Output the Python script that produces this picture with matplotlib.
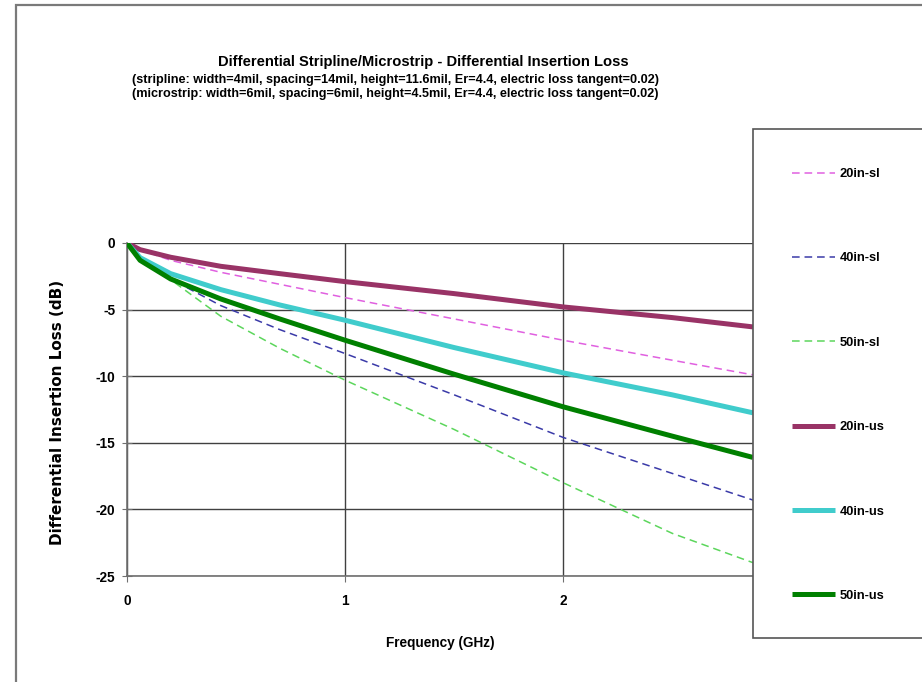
import matplotlib
matplotlib.use('Agg')
import matplotlib.pyplot as plt
from matplotlib.patches import Rectangle

plt.rcParams['axes.unicode_minus'] = False

# ---------------- data ----------------
freq = [0, 0.06, 0.2, 0.43, 0.7, 1.0, 1.5, 2.0, 2.5, 2.87]
sl_20 = [0, -0.5, -1.3, -2.2, -3.1, -4.1, -5.7, -7.3, -8.8, -9.9]
sl_40 = [0, -1.0, -2.7, -4.7, -6.5, -8.3, -11.4, -14.6, -17.3, -19.3]
sl_50 = [0, -1.05, -2.75, -5.5, -7.9, -10.3, -14.0, -18.0, -21.8, -24.0]
us_20 = [0, -0.5, -1.07, -1.75, -2.3, -2.9, -3.8, -4.8, -5.6, -6.3]
us_40 = [0, -1.1, -2.3, -3.5, -4.65, -5.8, -7.85, -9.75, -11.4, -12.75]
us_50 = [0, -1.3, -2.7, -4.2, -5.7, -7.3, -9.85, -12.3, -14.5, -16.1]
labels = ['20in-sl', '40in-sl', '50in-sl', '20in-us', '40in-us', '50in-us']
x_ticks = [0, 1, 2]
y_ticks = [0, -5, -10, -15, -20, -25]

title = 'Differential Stripline/Microstrip - Differential Insertion Loss'
sub1 = '(stripline: width=4mil, spacing=14mil, height=11.6mil, Er=4.4, electric loss tangent=0.02)'
sub2 = '(microstrip: width=6mil, spacing=6mil, height=4.5mil, Er=4.4, electric loss tangent=0.02)'

FONT = ['Liberation Sans', 'DejaVu Sans']
W, H = 922, 682

fig = plt.figure(figsize=(W / 100, H / 100), dpi=100)
fig.patch.set_facecolor('white')

def fx(px):
    return px / W

def fy(py):
    return 1 - py / H

ax = fig.add_axes([fx(127), fy(576), fx(753) - fx(127), fy(243) - fy(576)])

series = [sl_20, sl_40, sl_50, us_20, us_40, us_50]
colors = ['#E060E0', '#3A3AA8', '#5CD65C', '#993366', '#40CCCC', '#008000']
widths = [1.1, 1.1, 1.1, 3.6, 3.6, 3.6]
styles = ['--', '--', '--', '-', '-', '-']
lines = []
for s, c, w, ls, lab in zip(series, colors, widths, styles, labels):
    ln, = ax.plot(freq, s, color=c, lw=w, ls=ls, label=lab, zorder=3,
                  solid_capstyle='butt', solid_joinstyle='round')
    if ls == '--':
        ln.set_dashes((5, 3.2))
    lines.append(ln)

ax.set_xlim(0, 2.87)
ax.set_ylim(-25, 0)
ax.set_xticks(x_ticks)
ax.set_yticks(y_ticks)
ax.grid(True, color='#404040', lw=1.0, zorder=1)
for sp in ['top', 'right']:
    ax.spines[sp].set_visible(False)
for sp in ['left', 'bottom']:
    ax.spines[sp].set_color('#707070')
    ax.spines[sp].set_linewidth(1.2)
ax.tick_params(axis='y', direction='inout', length=7, color='#707070', pad=5)
ax.tick_params(axis='x', direction='out', length=4, color='#707070', pad=9)
for lab in ax.get_xticklabels() + ax.get_yticklabels():
    lab.set_fontfamily(FONT)
    lab.set_fontweight('bold')
    lab.set_fontsize(9.8)

ax.set_xlabel('Frequency (GHz)', family=FONT, weight='bold', fontsize=9.8, labelpad=20)
fig.text(fx(57), fy(412), 'Differential Insertion Loss (dB)', rotation=90,
         ha='center', va='center', family=['DejaVu Sans'],
         weight='bold', fontsize=11)

fig.text(fx(423), fy(62), title, ha='center', va='center', family=FONT,
         weight='bold', fontsize=10.6)
fig.text(fx(395), fy(80), sub1, ha='center', va='center', family=FONT,
         weight='bold', fontsize=9.1)
fig.text(fx(395), fy(94), sub2, ha='center', va='center', family=FONT,
         weight='bold', fontsize=9.1)

# outer chart border (cropped on the right and bottom)
fig.add_artist(Rectangle((fx(15.5), -0.05), 1.2, fy(5) + 0.05, transform=fig.transFigure,
                         fill=False, edgecolor='#7a7a7a', lw=1.6, clip_on=False))
# legend frame
fig.add_artist(Rectangle((fx(753), fy(638)), 0.5, fy(129) - fy(638), transform=fig.transFigure,
                         facecolor='white', edgecolor='#555555', lw=1.2, clip_on=False, zorder=4))

leg = fig.legend(handles=lines, labels=labels, loc='upper left',
                 bbox_to_anchor=(fx(792), fy(168)), frameon=False,
                 prop={'family': FONT, 'weight': 'bold', 'size': 9.3},
                 handlelength=3.35, handletextpad=0.35, labelspacing=5.6,
                 borderpad=0, borderaxespad=0)
leg.set_zorder(5)

fig.savefig('out.png', dpi=100, facecolor='white')
